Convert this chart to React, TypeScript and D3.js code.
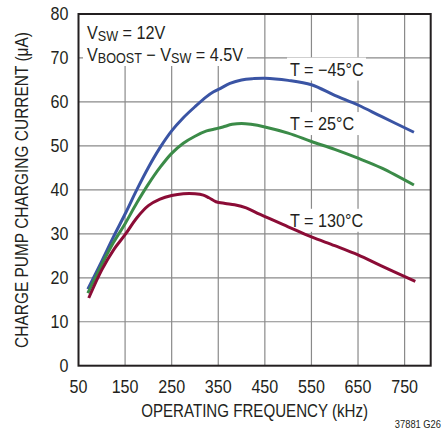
import * as d3 from "d3";

// operating frequency (kHz) / charge pump current (uA)
const freqM45 = [70, 100, 125, 150, 175, 200, 225, 250, 275, 300, 325, 340, 355, 375, 400, 425, 450, 500, 550, 600, 650, 700, 770];
const currM45 = [17.4, 23.8, 29.3, 34.5, 40.0, 45.1, 49.6, 53.4, 56.4, 58.9, 61.2, 62.3, 63.1, 64.2, 65.0, 65.3, 65.4, 64.9, 63.9, 61.5, 59.3, 56.7, 53.1];

const freq25 = [70, 100, 125, 150, 175, 200, 225, 250, 275, 300, 325, 345, 360, 380, 400, 420, 450, 500, 550, 600, 650, 700, 770];
const curr25 = [16.5, 23.0, 28.0, 32.3, 37.0, 41.3, 45.1, 48.3, 50.6, 52.2, 53.4, 53.9, 54.3, 54.9, 55.1, 54.9, 54.3, 52.9, 51.0, 49.2, 47.2, 45.0, 41.1];

const freq130 = [72, 100, 125, 150, 175, 200, 225, 250, 275, 300, 318, 330, 345, 365, 385, 410, 440, 500, 550, 600, 650, 700, 773];
const curr130 = [15.4, 21.8, 26.3, 29.8, 33.6, 36.4, 37.9, 38.7, 39.1, 39.1, 38.8, 38.2, 37.3, 36.9, 36.6, 35.9, 34.4, 31.6, 29.3, 27.3, 25.2, 22.7, 19.2];

const xTicks = [50, 150, 250, 350, 450, 550, 650, 750];
const yTicks = [0, 10, 20, 30, 40, 50, 60, 70, 80];
const xGrid = [150, 250, 350, 450, 550, 650, 750];
const yGrid = [10, 20, 30, 40, 50, 60, 70];

const series = [
  { name: "T = \u221245\u00b0C", freq: freqM45, curr: currM45, color: "#3a54a4" },
  { name: "T = 25\u00b0C", freq: freq25, curr: curr25, color: "#3b8b48" },
  { name: "T = 130\u00b0C", freq: freq130, curr: curr130, color: "#8b0c36" },
];

const FONT = "'Liberation Sans', Arial, Helvetica, sans-serif";
const INK = "#231f20";

// condensed text: draw in Arial metrics, squeeze horizontally
const CText = ({ x, y, sx = 0.86, size = 17, anchor = "start", rotate = 0, children }: any) => (
  <g transform={`translate(${x},${y}) rotate(${rotate}) scale(${sx},1)`}>
    <text x={0} y={0} fontSize={size} textAnchor={anchor} fill={INK} fontFamily={FONT}>
      {children}
    </text>
  </g>
);

const App = () => {
  const width = 443;
  const height = 432;
  const margin = { top: 14, right: 12.3, bottom: 66.3, left: 78.5 };

  const x = d3.scaleLinear().domain([50, 806]).range([margin.left, width - margin.right]);
  const y = d3.scaleLinear().domain([0, 80]).range([height - margin.bottom, margin.top]);

  const line = d3
    .line<[number, number]>()
    .x((d) => x(d[0]))
    .y((d) => y(d[1]))
    .curve(d3.curveCatmullRom.alpha(0.5));

  const [x0, x1] = x.range();
  const [y0, y1] = y.range();

  // label anchors in data units
  const labels = [
    { text: series[0].name, fx: 504, fy: 66 },
    { text: series[1].name, fx: 504, fy: 53.6 },
    { text: series[2].name, fx: 504, fy: 31.6 },
  ];

  return (
    <svg
      width={width}
      height={height}
      style={{ position: "absolute", left: 0, top: 0, background: "#fff" }}
    >
      <rect x={0} y={0} width={width} height={height} fill="#fff" />

      {/* grid */}
      <g stroke="#8a8a8a" strokeWidth={1.2}>
        {xGrid.map((v) => (
          <line key={"gx" + v} x1={x(v)} x2={x(v)} y1={y1} y2={y0} />
        ))}
        {yGrid.map((v) => (
          <line key={"gy" + v} x1={x0} x2={x1} y1={y(v)} y2={y(v)} />
        ))}
      </g>

      {/* white boxes behind the in-plot text */}
      <rect x={83} y={y1 + 1} width={164} height={51} fill="#fff" />
      {labels.map((l) => (
        <rect key={"bg" + l.text} x={x(l.fx) - 3} y={y(l.fy) - 18} width={79} height={23} fill="#fff" />
      ))}

      {/* curves */}
      {series.map((s) => (
        <path
          key={s.name}
          d={line(s.freq.map((f, i) => [f, s.curr[i]] as [number, number])) || ""}
          fill="none"
          stroke={s.color}
          strokeWidth={3}
          strokeLinecap="butt"
          strokeLinejoin="round"
        />
      ))}

      {/* frame */}
      <rect x={x0} y={y1} width={x1 - x0} height={y0 - y1} fill="none" stroke={INK} strokeWidth={2} />

      {/* axis ticks */}
      {yTicks.map((v) => (
        <CText key={"yt" + v} x={68.5} y={y(v) + 6} sx={0.92} size={17.5} anchor="end">
          {v}
        </CText>
      ))}
      {xTicks.map((v) => (
        <CText key={"xt" + v} x={x(v)} y={392.5} sx={0.92} size={17.5} anchor="middle">
          {v}
        </CText>
      ))}

      {/* axis titles */}
      <CText x={(x0 + x1) / 2} y={417} sx={0.84} size={18} anchor="middle">
        OPERATING FREQUENCY (kHz)
      </CText>
      <CText x={27.5} y={190} sx={0.86} size={18} anchor="middle" rotate={-90}>
        CHARGE PUMP CHARGING CURRENT ({"\u03bc"}A)
      </CText>

      {/* conditions */}
      <CText x={87} y={38.5} sx={0.9} size={18}>
        V<tspan fontSize={14} dy={2.5}>SW</tspan>
        <tspan dy={-2.5}> = 12V</tspan>
      </CText>
      <CText x={87} y={60.5} sx={0.9} size={18}>
        V<tspan fontSize={14} dy={2.5}>BOOST</tspan>
        <tspan dy={-2.5}> {"\u2212"} V</tspan>
        <tspan fontSize={14} dy={2.5}>SW</tspan>
        <tspan dy={-2.5}> = 4.5V</tspan>
      </CText>

      {/* curve labels */}
      {labels.map((l) => (
        <CText key={"lb" + l.text} x={x(l.fx)} y={y(l.fy)} sx={0.9} size={18}>
          {l.text}
        </CText>
      ))}

      <CText x={441} y={428} sx={0.85} size={11} anchor="end">
        37881 G26
      </CText>
    </svg>
  );
};

export default App;
